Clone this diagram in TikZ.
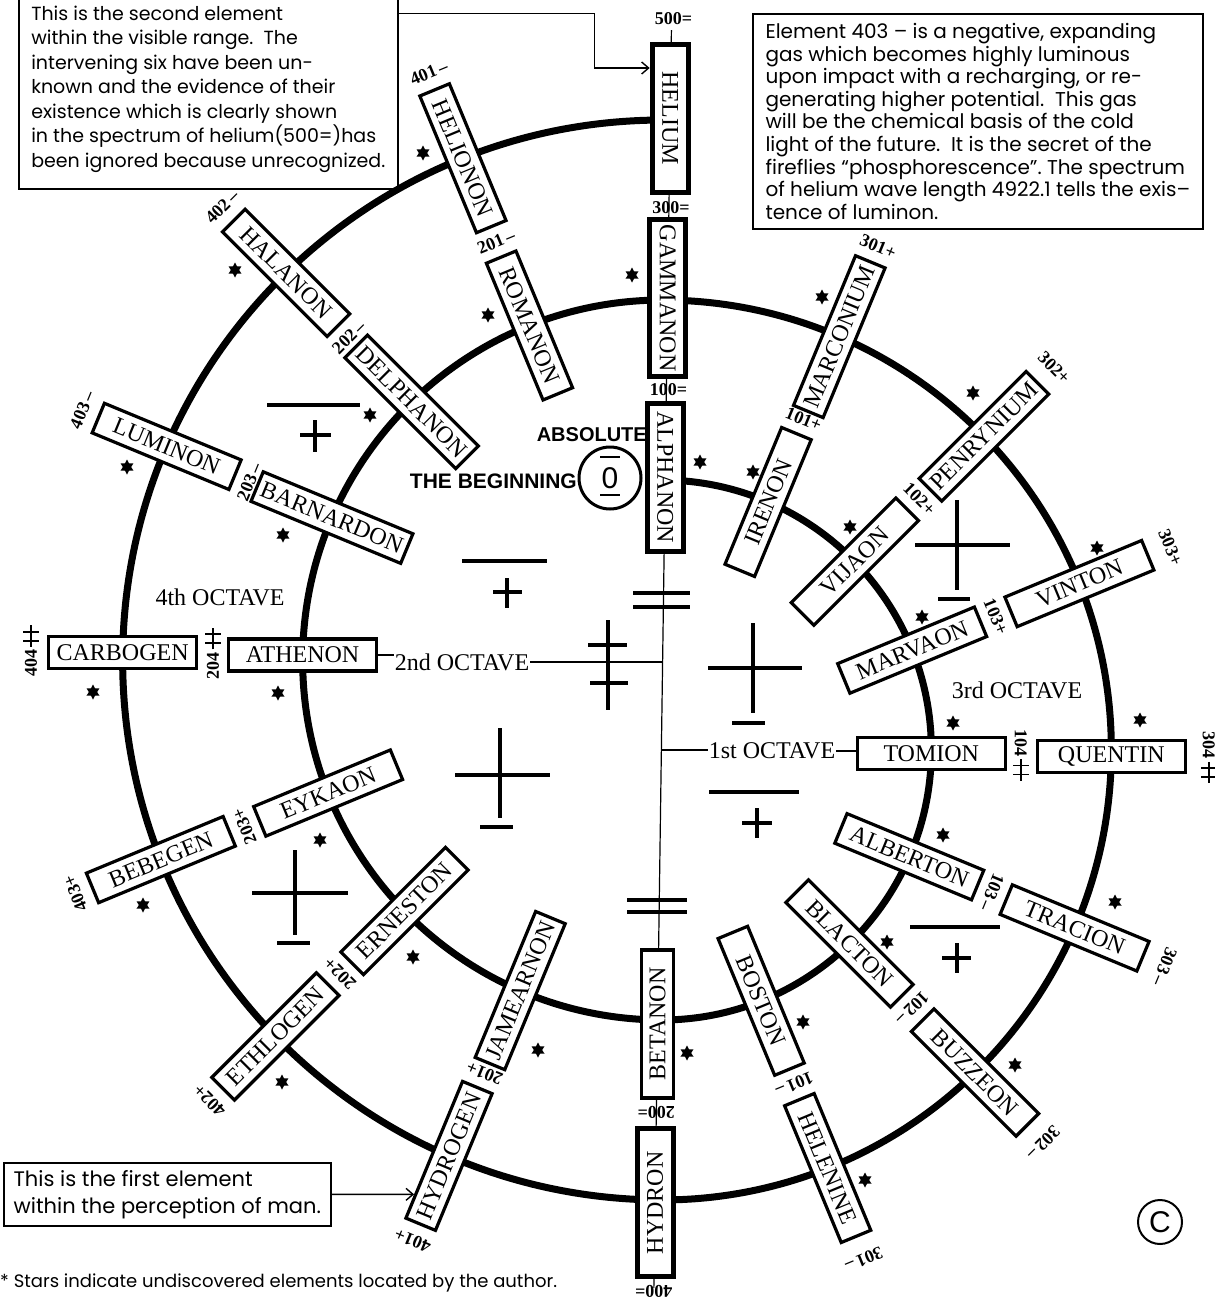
\documentclass[tikz,border=0pt]{standalone}
\usepackage{fontspec}
\setmainfont{Liberation Serif}
\newfontfamily\hand{Poppins}
\newfontfamily\bsans{Liberation Sans}
\usetikzlibrary{calc,shapes.geometric,arrows.meta}
\newcommand\dplus{\hbox to 1.2em{\rlap{\rule[0.3em]{1.2em}{1.8pt}}\hskip0.3em\rule[-0.1em]{1.8pt}{0.9em}\hskip0.4em\rule[-0.1em]{1.8pt}{0.9em}\hss}}
\begin{document}
\begin{tikzpicture}[x=1pt,y=1pt,
  elem/.style={draw, line width=3.2pt, fill=white, minimum width=148pt, minimum height=32pt, inner xsep=5pt, inner ysep=0pt, font=\fontsize{24}{24}\selectfont},
  topelem/.style={elem, line width=5pt, minimum height=36pt},
  num/.style={font=\bfseries\fontsize{18}{18}\selectfont, inner sep=1pt},
  spiral/.style={line width=7pt},
  thinline/.style={line width=1.2pt},
  sym/.style={line width=4pt},
  starnode/.style={star, star points=6, star point ratio=1.8, fill, draw=none, inner sep=0pt, minimum size=15pt},
  note/.style={draw, line width=1.6pt, align=left, inner xsep=8pt},
  oct/.style={font=\fontsize{24}{24}\selectfont, inner sep=1pt},
  arr/.style={line width=1.4pt, -{Straight Barb[length=7pt,width=12pt,line width=1.4pt]}}
]
\useasboundingbox (0,-1301) rectangle (1215,0);

\begin{scope}[rotate around={-0.8:(662,-705)}]
\coordinate (A) at (662,-750);
\coordinate (B) at (662,-660);
\coordinate (ax1) at (662,-750);
\coordinate (ax2) at (662,-662);
\draw[thinline] (662,-30) -- (662,-1288);
\draw[spiral] (662,-480) arc[start angle=90, end angle=-90, radius=270]
  arc[start angle=-90, end angle=-270, radius=360]
  arc[start angle=90, end angle=-90, radius=450]
  arc[start angle=-90, end angle=-270, radius=540];
% vertical spoke
\node[topelem, rotate=-90] (helium) at (662,-118) {HELIUM};
\node[topelem, rotate=-90] (gammanon) at (662,-298) {GAMMANON};
\node[topelem, rotate=-90] (alphanon) at (662,-477) {ALPHANON};
\node[elem, rotate=90] (betanon) at (662,-1024) {BETANON};
\node[topelem, rotate=90] (hydron) at (662,-1203) {HYDRON};
\node[num] (n500) at (664,-18) {500=};
\node[num] (n300) at (664,-208) {300=};
\node[num] (n100) at (664,-390) {100=};
\node[num, rotate=180] (n200) at (662,-1112) {200=};
\node[num, rotate=180] (n400) at (662,-1291) {400=};
% right spokes (centre A)
\node[elem, rotate=67.5] (irenon) at ($(A)+(67.5:270)$) {IRENON};
\node[elem, rotate=67.5] (marconium) at ($(A)+(67.5:450)$) {MARCONIUM};
\node[num, rotate=-22.5] (n101p) at ($(A)+(67.5:360)$) {101+};
\node[num, rotate=-22.5] (n301p) at ($(A)+(67.5:548)$) {301+};
\node[elem, rotate=45] (vijaon) at ($(A)+(45:270)$) {VIJAON};
\node[elem, rotate=45] (penrynium) at ($(A)+(45:450)$) {PENRYNIUM};
\node[num, rotate=-45] (n102p) at ($(A)+(45:360)$) {102+};
\node[num, rotate=-45] (n302p) at ($(A)+(45:548)$) {302+};
\node[elem, rotate=22.5] (marvaon) at ($(A)+(22.5:270)$) {MARVAON};
\node[elem, rotate=22.5] (vinton) at ($(A)+(22.5:450)$) {VINTON};
\node[num, rotate=-67.5] (n103p) at ($(A)+(22.5:360)$) {103+};
\node[num, rotate=-67.5] (n303p) at ($(A)+(22.5:548)$) {303+};
\node[elem] (tomion) at ($(A)+(0:270)$) {TOMION};
\node[elem] (quentin) at ($(A)+(0:450)$) {QUENTIN};
\node[num, rotate=-90] (n104) at ($(A)+(0:360)$) {104\,\dplus};
\node[num, rotate=-90] (n304) at ($(A)+(0:548)$) {304\,\dplus};
\node[elem, rotate=-22.5] (alberton) at ($(A)+(-22.5:270)$) {ALBERTON};
\node[elem, rotate=-22.5] (tracion) at ($(A)+(-22.5:450)$) {TRACION};
\node[num, rotate=-112.5] (n103m) at ($(A)+(-22.5:360)$) {103\,–};
\node[num, rotate=-112.5] (n303m) at ($(A)+(-22.5:548)$) {303\,–};
\node[elem, rotate=-45] (blacton) at ($(A)+(-45:270)$) {BLACTON};
\node[elem, rotate=-45] (buzzeon) at ($(A)+(-45:450)$) {BUZZEON};
\node[num, rotate=-135] (n102m) at ($(A)+(-45:360)$) {102\,–};
\node[num, rotate=-135] (n302m) at ($(A)+(-45:548)$) {302\,–};
\node[elem, rotate=-67.5] (boston) at ($(A)+(-67.5:270)$) {BOSTON};
\node[elem, rotate=-67.5] (helenine) at ($(A)+(-67.5:450)$) {HELENINE};
\node[num, rotate=-157.5] (n101m) at ($(A)+(-67.5:360)$) {101\,–};
\node[num, rotate=-157.5] (n301m) at ($(A)+(-67.5:548)$) {301\,–};
% left spokes (centre B)
\node[elem, rotate=-67.5] (romanon) at ($(B)+(112.5:360)$) {ROMANON};
\node[elem, rotate=-67.5] (helionon) at ($(B)+(112.5:540)$) {HELIONON};
\node[num, rotate=22.5] (n201m) at ($(B)+(112.5:450)$) {201\,–};
\node[num, rotate=22.5] (n401m) at ($(B)+(112.5:632)$) {401\,–};
\node[elem, rotate=-45] (delphanon) at ($(B)+(135:360)$) {DELPHANON};
\node[elem, rotate=-45] (halanon) at ($(B)+(135:540)$) {HALANON};
\node[num, rotate=45] (n202m) at ($(B)+(135:450)$) {202\,–};
\node[num, rotate=45] (n402m) at ($(B)+(135:632)$) {402\,–};
\node[elem, rotate=-22.5] (barnardon) at ($(B)+(157.5:360)$) {BARNARDON};
\node[elem, rotate=-22.5] (luminon) at ($(B)+(157.5:540)$) {LUMINON};
\node[num, rotate=67.5] (n203m) at ($(B)+(157.5:450)$) {203\,–};
\node[num, rotate=67.5] (n403m) at ($(B)+(157.5:632)$) {403\,–};
\node[elem] (athenon) at ($(B)+(180:360)$) {ATHENON};
\node[elem] (carbogen) at ($(B)+(180:540)$) {CARBOGEN};
\node[num, rotate=90] (n204) at ($(B)+(180:450)$) {204\,\dplus};
\node[num, rotate=90] (n404) at ($(B)+(180:632)$) {404\,\dplus};
\node[elem, rotate=22.5] (eykaon) at ($(B)+(202.5:360)$) {EYKAON};
\node[elem, rotate=22.5] (bebegen) at ($(B)+(202.5:540)$) {BEBEGEN};
\node[num, rotate=112.5] (n203p) at ($(B)+(202.5:450)$) {203+};
\node[num, rotate=112.5] (n403p) at ($(B)+(202.5:632)$) {403+};
\node[elem, rotate=45] (erneston) at ($(B)+(225:360)$) {ERNESTON};
\node[elem, rotate=45] (ethlogen) at ($(B)+(225:540)$) {ETHLOGEN};
\node[num, rotate=135] (n202p) at ($(B)+(225:450)$) {202+};
\node[num, rotate=135] (n402p) at ($(B)+(225:632)$) {402+};
\node[elem, rotate=67.5] (jamearnon) at ($(B)+(247.5:360)$) {JAMEARNON};
\node[elem, rotate=67.5] (hydrogen) at ($(B)+(247.5:540)$) {HYDROGEN};
\node[num, rotate=157.5] (n201p) at ($(B)+(247.5:450)$) {201+};
\node[num, rotate=157.5] (n401p) at ($(B)+(247.5:632)$) {401+};
\end{scope}

% double marks on the axis
\draw[sym, line width=3.5pt] (633,-593) -- (690,-593) (633,-607) -- (690,-607);
\draw[sym, line width=3.5pt] (627,-900) -- (687,-900) (627,-912) -- (687,-912);
% double cross on the 2nd octave line
\draw[sym] (608,-620) -- (608,-710) (588,-645) -- (627,-645) (590,-683) -- (628,-683);

% octave labels and their lines
\node[oct] (oct4) at (220,-597) {4th OCTAVE};
\node[oct] (oct3) at (1017,-690) {3rd OCTAVE};
\node[oct] (oct2) at (462,-662) {2nd OCTAVE};
\node[oct] (oct1) at (772,-751) {1st OCTAVE};
\draw[thinline] (athenon.east) -- (athenon.east -| oct2.west);
\draw[thinline] (oct2.east) -- (oct2.east -| ax2);
\draw[thinline] (ax1) -- (ax1 -| oct1.west);
\draw[thinline] (oct1.east) -- (oct1.east -| tomion.west);

% absolute / beginning
\node[font=\bsans\bfseries\fontsize{20}{20}\selectfont, anchor=east, inner sep=0pt] (absolute) at (647,-435) {ABSOLUTE};
\node[font=\bsans\bfseries\fontsize{21}{21}\selectfont, anchor=east, inner sep=0pt] (beginning) at (577,-481) {THE BEGINNING};
\node[circle, draw, line width=3pt, minimum size=62pt, inner sep=0pt, font=\bsans\fontsize{30}{30}\selectfont] (zero) at (610,-478) {0};
\draw[line width=2.5pt] ($(zero)+(-10,21)$) -- ++(20,0);
\draw[line width=2.5pt] ($(zero)+(-10,-17)$) -- ++(20,0);

% plus / minus signs
\draw[sym] (267,-405) -- (360,-405) (300,-435) -- (331,-435) (315,-420) -- (315,-452);
\draw[sym] (462,-561) -- (547,-561) (493,-592) -- (522,-592) (507,-578) -- (507,-608);
\draw[sym] (500,-728) -- (500,-818) (455,-775) -- (550,-775) (480,-827) -- (513,-827);
\draw[sym] (753,-623) -- (753,-713) (708,-668) -- (802,-668) (732,-723) -- (765,-723);
\draw[sym] (709,-792) -- (799,-792) (742,-823) -- (772,-823) (757,-808) -- (757,-838);
\draw[sym] (957,-500) -- (957,-590) (915,-545) -- (1010,-545) (938,-599) -- (970,-599);
\draw[sym] (910,-927) -- (1000,-927) (942,-958) -- (971,-958) (957,-943) -- (957,-973);
\draw[sym] (295,-850) -- (295,-935) (252,-893) -- (348,-893) (277,-943) -- (310,-943);

% stars
\foreach \x/\y [count=\i] in {423/153, 632/275, 235/270, 370/415, 488/315, 700/462, 753/472,
  822/297, 973/393, 850/527, 1097/548, 922/617, 127/467, 283/535, 93/692, 278/693,
  953/723, 1140/720, 943/835, 1115/902, 887/942, 320/840, 143/905, 413/957, 282/1082,
  538/1050, 687/1053, 803/1022, 865/1180, 1015/1065}
  \node[starnode] (star\i) at (\x,-\y) {};

% notes
\node[note, anchor=south west, minimum width=379pt, minimum height=200pt, font=\hand\fontsize{19}{24.5}\selectfont] (box1) at (18,-190) {This is the second element\\within the visible range.\ \ The\\intervening six have been un-\\known and the evidence of their\\existence which is clearly shown\\in the spectrum of helium(500=)has\\been ignored because unrecognized.};
\node[note, anchor=north west, minimum width=450pt, minimum height=215pt, font=\hand\fontsize{20}{22.6}\selectfont] (box2) at (752,-13) {Element 403 – is a negative, expanding\\gas which becomes highly luminous\\upon impact with a recharging, or re-\\generating higher potential.\ \ This gas\\will be the chemical basis of the cold\\light of the future.\ \ It is the secret of the\\fireflies “phosphorescence”.\ The spectrum\\of helium wave length 4922.1 tells the exis–\\tence of luminon.};
\node[note, anchor=north west, minimum width=327pt, minimum height=63pt, font=\hand\fontsize{21}{27}\selectfont] (box3) at (3,-1162) {This is the first element\\within the perception of man.};

\draw[arr] ([yshift=-25pt]box1.north east) -- ++(196,0) |- (helium.south |- 0,-68);
\coordinate (b3far) at ($(box3.east)+(200,0)$);
\draw[arr] (box3.east) -- (intersection of box3.east--b3far and hydrogen.north west--hydrogen.north east);

% footnote and copyright
\node[anchor=west, inner sep=0pt, font=\hand\fontsize{18}{18}\selectfont] (foot) at (0,-1283) {* Stars indicate undiscovered elements located by the author.};
\node[circle, draw, line width=2pt, minimum size=44pt, inner sep=0pt, font=\bsans\fontsize{30}{30}\selectfont] (copy) at (1160,-1222) {C};
\end{tikzpicture}
\end{document}
